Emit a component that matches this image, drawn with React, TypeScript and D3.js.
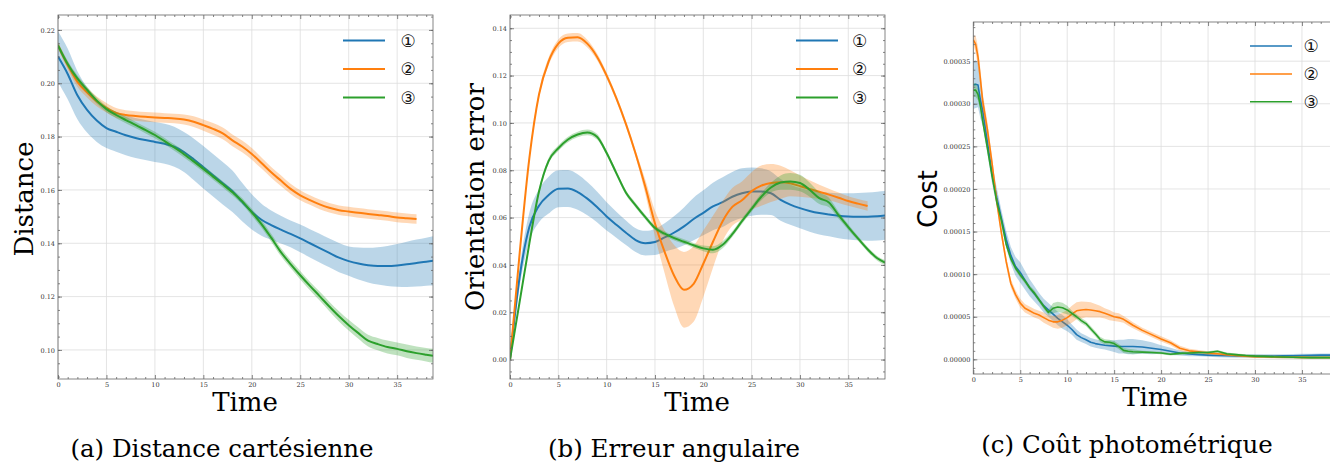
import React, { useEffect, useRef } from 'react';
import * as d3 from 'd3';

const BLUE = '#1f77b4';
const ORANGE = '#ff7f0e';
const GREEN = '#2ca02c';
const legendLabels = ['①', '②', '③'];
const xMajorTicks = [0, 5, 10, 15, 20, 25, 30, 35];

// (a) Distance cartésienne
const distTime = [0, 1, 2, 3, 4, 5, 6, 7, 8, 9, 10, 11, 12, 13, 14, 15, 16, 17, 18, 19, 20, 21, 22, 23, 24, 25, 26, 27, 28, 29, 30, 31, 32, 33, 34, 35, 36, 37, 38, 38.7];
const distBlue = [.2100, .2035, .1955, .1900, .1860, .1832, .1818, .1805, .1795, .1787, .1780, .1773, .1762, .1742, .1715, .1685, .1655, .1625, .1595, .1555, .1518, .1488, .1468, .1451, .1435, .1418, .1400, .1382, .1364, .1346, .1333, .1324, .1318, .1315, .1315, .1317, .1321, .1326, .1331, .1334];
const distBlueSpread = [.0095, .0095, .009, .0085, .008, .0075, .0075, .0075, .0075, .0075, .0075, .0075, .0075, .0075, .0078, .008, .008, .008, .0078, .0072, .0066, .006, .0055, .0052, .005, .0052, .0053, .0054, .0054, .0055, .0055, .006, .0065, .007, .0075, .008, .0085, .0088, .009, .0092];
const distOrange = [.2142, .2068, .2005, .1965, .1932, .1908, .1889, .1881, .1877, .1874, .1872, .1870, .1868, .1864, .1856, .1843, .1829, .1812, .1786, .1763, .1735, .1701, .1666, .1635, .1604, .1580, .1562, .1546, .1533, .1524, .1519, .1514, .1510, .1506, .1502, .1497, .1494, .1491, null, null];
const distOrangeSpread = [.0012, .0015, .0018, .0018, .0018, .0018, .0018, .0018, .0018, .0018, .0018, .0018, .0018, .0019, .002, .0021, .0022, .0022, .0022, .0022, .0022, .0021, .002, .002, .0019, .0019, .0018, .0018, .0018, .0018, .0018, .0018, .0018, .0018, .0018, .0018, .0018, .0018, null, null];
const distGreen = [.2142, .2072, .2018, .1975, .1935, .1903, .1881, .1862, .1844, .1825, .1806, .1783, .1759, .1734, .1707, .1679, .1650, .1621, .1591, .1558, .1516, .1472, .1421, .1367, .1322, .1280, .1240, .1202, .1163, .1126, .1093, .1063, .1035, .1022, .1011, .1004, .0995, .0988, .0982, .0978];
const distGreenSpread = [.0012, .0012, .0012, .0012, .0012, .0012, .0012, .0012, .0012, .0012, .0012, .0012, .0012, .0012, .0012, .0012, .0012, .0012, .0012, .0012, .0013, .0014, .0015, .0015, .0015, .0016, .0016, .0017, .0018, .0019, .002, .0021, .0022, .0023, .0024, .0024, .0025, .0025, .0025, .0026];

// (b) Erreur angulaire
const orientTime = [0, 1, 2, 3, 4, 5, 6, 7, 8, 9, 10, 11, 12, 13, 14, 15, 16, 17, 18, 19, 20, 21, 22, 23, 24, 25, 26, 27, 28, 29, 30, 31, 32, 33, 34, 35, 36, 37, 38, 38.8];
const orientBlue = [0, .035, .056, .065, .0695, .0722, .0723, .0708, .068, .0645, .0605, .057, .0536, .0505, .0492, .0497, .0516, .0537, .0563, .0594, .062, .0647, .0665, .0688, .0703, .071, .071, .0703, .0675, .0655, .064, .0628, .0619, .0613, .0608, .0605, .0604, .0604, .0606, .0609];
const orientBlueSpread = [0, .004, .006, .007, .0078, .0078, .0078, .0075, .007, .0065, .006, .0055, .0052, .005, .0052, .0055, .006, .007, .008, .009, .0095, .01, .0105, .0105, .0105, .0102, .0098, .0092, .0088, .0085, .0085, .0088, .009, .0092, .0095, .0098, .01, .0102, .0103, .0103];
const orientOrange = [0, .045, .085, .112, .126, .1335, .136, .1362, .1335, .128, .12, .1105, .0995, .087, .073, .0575, .0455, .0353, .0295, .032, .0405, .0498, .0585, .0645, .0673, .0712, .0735, .0746, .0749, .0745, .0733, .0721, .0709, .0697, .0684, .067, .0659, .0649, null, null];
const orientOrangeSpread = [0, .0008, .0012, .0014, .0016, .0018, .0018, .0018, .0016, .0014, .0013, .0012, .0012, .0014, .003, .0055, .009, .013, .016, .016, .014, .011, .0085, .008, .008, .008, .0085, .008, .007, .0055, .0045, .0037, .003, .0025, .0022, .002, .002, .002, null, null];
const orientGreen = [0, .0245, .049, .071, .084, .0893, .093, .0951, .096, .0942, .0873, .0788, .0705, .0652, .0602, .0556, .0532, .0513, .0498, .0483, .047, .0464, .0485, .053, .0585, .0637, .0688, .0727, .0748, .0753, .0746, .0718, .0682, .0664, .061, .056, .0512, .0466, .0428, .041];
const orientGreenSpread = [0, .0008, .001, .001, .0012, .0012, .0012, .0012, .0012, .0012, .001, .001, .001, .001, .001, .001, .001, .001, .001, .001, .0012, .0015, .0015, .0012, .0012, .0012, .0015, .002, .003, .0035, .0035, .003, .0025, .002, .0015, .0012, .001, .001, .001, .001];

// (c) Coût photométrique, values in units of 1e-5
const costTime = [0, 0.25, 0.5, 0.75, 1, 1.5, 2, 2.5, 3, 3.5, 4, 4.5, 5, 5.5, 6, 6.5, 7, 7.5, 8, 8.5, 9, 9.5, 10, 10.5, 11, 11.5, 12, 12.5, 13, 13.5, 14, 14.5, 15, 15.5, 16, 16.5, 17, 18, 19, 20, 21, 22, 23, 24, 25, 26, 27, 28, 29, 30, 31, 32, 33, 34, 35, 36, 37, 38.5];
const costBlue = [32.2, 32.3, 32.2, 30.5, 29.2, 25.5, 21.8, 19.0, 16.5, 14.1, 12.2, 10.9, 10.2, 9.3, 8.4, 7.7, 7.0, 6.3, 5.8, 5.3, 4.8, 4.4, 4.0, 3.5, 2.9, 2.55, 2.3, 2.0, 1.85, 1.75, 1.65, 1.6, 1.55, 1.5, 1.5, 1.5, 1.5, 1.45, 1.3, 1.15, 0.95, 0.75, 0.62, 0.55, 0.5, 0.46, 0.42, 0.4, 0.39, 0.39, 0.4, 0.4, 0.41, 0.43, 0.45, 0.47, 0.49, 0.5];
const costBlueSpread = [2.8, 2.8, 2.6, 2.2, 1.8, 1.4, 1.2, 1.1, 1.0, 1.0, 1.0, 1.1, 1.2, 1.1, 1.0, 0.9, 0.8, 0.8, 0.8, 0.8, 0.8, 0.8, 0.7, 0.6, 0.6, 0.5, 0.5, 0.5, 0.5, 0.5, 0.5, 0.6, 0.7, 0.8, 0.8, 0.9, 0.9, 0.8, 0.7, 0.5, 0.4, 0.3, 0.25, 0.2, 0.2, 0.2, 0.2, 0.2, 0.2, 0.2, 0.2, 0.2, 0.2, 0.2, 0.2, 0.2, 0.2, 0.2];
const costOrange = [37.5, 37.0, 35.5, 33.0, 30.3, 27.0, 23.0, 18.5, 14.8, 11.5, 8.9, 7.6, 6.6, 6.0, 5.7, 5.4, 5.2, 4.9, 4.6, 4.4, 4.4, 4.6, 4.9, 5.3, 5.7, 5.8, 5.85, 5.8, 5.7, 5.6, 5.4, 5.2, 5.0, 4.9, 4.7, 4.35, 4.0, 3.4, 2.9, 2.4, 1.95, 1.3, 1.0, 0.9, 0.75, 0.65, 0.55, 0.45, 0.38, 0.32, 0.3, 0.28, 0.25, 0.24, 0.23, 0.22, 0.22, 0.22];
const costOrangeSpread = [0.5, 1.0, 1.2, 1.1, 1.0, 0.9, 0.8, 0.7, 0.6, 0.6, 0.5, 0.5, 0.5, 0.5, 0.5, 0.5, 0.5, 0.6, 0.6, 0.7, 0.8, 0.9, 0.9, 1.0, 1.0, 1.0, 0.9, 0.9, 0.8, 0.7, 0.6, 0.6, 0.5, 0.5, 0.4, 0.4, 0.35, 0.3, 0.3, 0.3, 0.3, 0.3, 0.25, 0.2, 0.2, 0.15, 0.15, 0.15, 0.15, 0.15, 0.15, 0.15, 0.15, 0.15, 0.15, 0.15, 0.15, 0.15];
const costGreen = [31.6, 31.6, 31.1, 29.8, 28.0, 24.8, 21.5, 18.5, 16.3, 13.5, 11.8, 10.7, 9.9, 9.2, 8.4, 7.8, 7.0, 6.2, 5.5, 6.0, 6.15, 6.05, 5.8, 5.4, 5.0, 4.55, 4.2, 3.6, 3.0, 2.35, 2.05, 2.0, 1.85, 1.5, 1.05, 0.95, 0.9, 0.85, 0.8, 0.75, 0.6, 0.7, 0.75, 0.8, 0.8, 0.95, 0.65, 0.55, 0.45, 0.38, 0.35, 0.3, 0.28, 0.25, 0.22, 0.2, 0.2, 0.2];
const costGreenSpread = [0.8, 0.8, 0.7, 0.6, 0.5, 0.3, 0.3, 0.3, 0.3, 0.3, 0.3, 0.3, 0.3, 0.3, 0.3, 0.3, 0.3, 0.3, 0.3, 0.6, 0.6, 0.6, 0.5, 0.3, 0.3, 0.3, 0.3, 0.3, 0.3, 0.3, 0.3, 0.3, 0.3, 0.3, 0.3, 0.3, 0.3, 0.15, 0.15, 0.15, 0.15, 0.15, 0.15, 0.15, 0.15, 0.15, 0.15, 0.15, 0.15, 0.15, 0.15, 0.15, 0.15, 0.15, 0.15, 0.15, 0.15, 0.15];

const panels = [
    {
        left: 58, top: 15, right: 433, bottom: 379, xMax: 38.7,
        yDomain: [0.0891, 0.2256], yTicks: [0.10, 0.12, 0.14, 0.16, 0.18, 0.20, 0.22], yMinorStep: 0.005,
        yFormat: d3.format('.2f'),
        yLabel: 'Distance', yLabelFont: 'DejaVu Serif', yLabelX: 33, yLabelY: 199,
        timeX: 245, timeY: 411, caption: '(a) Distance cartésienne', captionX: 222, captionY: 457,
        legendX: 343, legendTextX: 408, legendY: [40.5, 69, 97.5], lineWidth: 2, curve: d3.curveMonotoneX,
        time: distTime,
        series: [
            { mean: distBlue, spread: distBlueSpread, color: BLUE },
            { mean: distOrange, spread: distOrangeSpread, color: ORANGE },
            { mean: distGreen, spread: distGreenSpread, color: GREEN },
        ],
    },
    {
        left: 510, top: 15, right: 885, bottom: 379, xMax: 38.8,
        yDomain: [-0.0082, 0.1456], yTicks: [0, 0.02, 0.04, 0.06, 0.08, 0.10, 0.12, 0.14], yMinorStep: 0.005,
        yFormat: d3.format('.2f'),
        yLabel: 'Orientation error', yLabelFont: 'DejaVu Serif', yLabelX: 484, yLabelY: 197,
        timeX: 697, timeY: 411, caption: '(b) Erreur angulaire', captionX: 674, captionY: 457,
        legendX: 796, legendTextX: 859.5, legendY: [40.5, 69, 97.5], lineWidth: 2, curve: d3.curveMonotoneX,
        time: orientTime,
        series: [
            { mean: orientBlue, spread: orientBlueSpread, color: BLUE },
            { mean: orientOrange, spread: orientOrangeSpread, color: ORANGE },
            { mean: orientGreen, spread: orientGreenSpread, color: GREEN },
        ],
    },
    {
        left: 973.3, top: 22, right: 1335, bottom: 374, xMax: 38.52,
        yDomain: [-1.72, 39.6], yTicks: [0, 5, 10, 15, 20, 25, 30, 35], yMinorStep: 1,
        yFormat: (d: number) => d3.format('.5f')(d * 1e-5),
        yLabel: 'Cost', yLabelFont: 'DejaVu Sans', yLabelX: 937, yLabelY: 199,
        timeX: 1155, timeY: 406, caption: '(c) Coût photométrique', captionX: 1127, captionY: 453,
        legendX: 1250, legendTextX: 1311, legendY: [46, 74, 101.7], lineWidth: 1.6, curve: d3.curveLinear,
        time: costTime,
        series: [
            { mean: costBlue, spread: costBlueSpread, color: BLUE },
            { mean: costOrange, spread: costOrangeSpread, color: ORANGE },
            { mean: costGreen, spread: costGreenSpread, color: GREEN },
        ],
    },
];

const styleAxis = (sel: any) => {
    sel.select('.domain').remove();
    sel.selectAll('line').attr('stroke', '#666').attr('stroke-width', 0.8);
    sel.selectAll('text')
        .attr('font-family', 'DejaVu Serif')
        .attr('font-size', 6.5)
        .attr('fill', '#333');
};

const drawPanel = (svg: any, p: any, idx: number) => {
    const x = d3.scaleLinear().domain([0, p.xMax]).range([p.left, p.right]);
    const y = d3.scaleLinear().domain(p.yDomain).range([p.bottom, p.top]);
    const g = svg.append('g');

    const clipId = `plot-clip-${idx}`;
    g.append('clipPath').attr('id', clipId).append('rect')
        .attr('x', p.left).attr('y', p.top)
        .attr('width', p.right - p.left).attr('height', p.bottom - p.top);

    // grid
    g.append('g').selectAll('line').data(xMajorTicks).join('line')
        .attr('x1', (d: number) => x(d)).attr('x2', (d: number) => x(d))
        .attr('y1', p.top).attr('y2', p.bottom)
        .attr('stroke', '#dddddd').attr('stroke-width', 0.8);
    g.append('g').selectAll('line').data(p.yTicks).join('line')
        .attr('x1', p.left).attr('x2', p.right)
        .attr('y1', (d: number) => y(d)).attr('y2', (d: number) => y(d))
        .attr('stroke', '#dddddd').attr('stroke-width', 0.8);

    // bands and mean lines
    const plot = g.append('g').attr('clip-path', `url(#${clipId})`);
    p.series.forEach((s: any) => {
        const pts = p.time.map((t: number, i: number) => ({ t, m: s.mean[i], s: s.spread[i] }));
        const ok = (d: any) => d.m != null;
        const area = d3.area<any>().defined(ok).curve(p.curve)
            .x(d => x(d.t)).y0(d => y(d.m - d.s)).y1(d => y(d.m + d.s));
        const line = d3.line<any>().defined(ok).curve(p.curve)
            .x(d => x(d.t)).y(d => y(d.m));
        plot.append('path').datum(pts).attr('d', area)
            .attr('fill', s.color).attr('fill-opacity', 0.3);
        plot.append('path').datum(pts).attr('d', line)
            .attr('fill', 'none').attr('stroke', s.color).attr('stroke-width', p.lineWidth)
            .attr('stroke-linejoin', 'round');
    });

    // frame
    g.append('rect')
        .attr('x', p.left).attr('y', p.top)
        .attr('width', p.right - p.left).attr('height', p.bottom - p.top)
        .attr('fill', 'none').attr('stroke', '#666').attr('stroke-width', 0.8);

    // ticks, all pointing inward
    const xMinor = d3.range(0, Math.floor(p.xMax) + 1).filter(v => v % 5 !== 0);
    const [y0, y1] = p.yDomain;
    const yMinor = d3.range(Math.ceil(y0 / p.yMinorStep), Math.floor(y1 / p.yMinorStep) + 1)
        .map(k => +(k * p.yMinorStep).toFixed(6));

    g.append('g').attr('transform', `translate(0,${p.bottom})`)
        .call(d3.axisBottom(x).tickValues(xMajorTicks).tickSize(-4).tickPadding(3).tickFormat(d3.format('d')))
        .call(styleAxis);
    g.append('g').attr('transform', `translate(0,${p.bottom})`)
        .call(d3.axisBottom(x).tickValues(xMinor).tickSize(-2).tickFormat(() => ''))
        .call(styleAxis);
    g.append('g').attr('transform', `translate(0,${p.top})`)
        .call(d3.axisTop(x).tickValues(xMajorTicks).tickSize(-4).tickFormat(() => ''))
        .call(styleAxis);
    g.append('g').attr('transform', `translate(0,${p.top})`)
        .call(d3.axisTop(x).tickValues(xMinor).tickSize(-2).tickFormat(() => ''))
        .call(styleAxis);
    g.append('g').attr('transform', `translate(${p.left},0)`)
        .call(d3.axisLeft(y).tickValues(p.yTicks).tickSize(-4).tickPadding(3).tickFormat(p.yFormat))
        .call(styleAxis);
    g.append('g').attr('transform', `translate(${p.left},0)`)
        .call(d3.axisLeft(y).tickValues(yMinor).tickSize(-2).tickFormat(() => ''))
        .call(styleAxis);
    g.append('g').attr('transform', `translate(${p.right},0)`)
        .call(d3.axisRight(y).tickValues(p.yTicks).tickSize(-4).tickFormat(() => ''))
        .call(styleAxis);
    g.append('g').attr('transform', `translate(${p.right},0)`)
        .call(d3.axisRight(y).tickValues(yMinor).tickSize(-2).tickFormat(() => ''))
        .call(styleAxis);

    // legend
    p.series.forEach((s: any, i: number) => {
        const ly = p.legendY[i];
        g.append('line')
            .attr('x1', p.legendX).attr('x2', p.legendX + 42)
            .attr('y1', ly).attr('y2', ly)
            .attr('stroke', s.color).attr('stroke-width', p.lineWidth);
        g.append('text')
            .attr('x', p.legendTextX).attr('y', ly).attr('dy', '0.36em')
            .attr('text-anchor', 'middle')
            .attr('font-family', 'DejaVu Sans').attr('font-size', 17).attr('fill', '#111')
            .text(legendLabels[i]);
    });

    // labels
    g.append('text')
        .attr('transform', `translate(${p.yLabelX},${p.yLabelY}) rotate(-90)`)
        .attr('text-anchor', 'middle')
        .attr('font-family', p.yLabelFont).attr('font-size', 26).attr('fill', '#000')
        .text(p.yLabel);
    g.append('text')
        .attr('x', p.timeX).attr('y', p.timeY)
        .attr('text-anchor', 'middle')
        .attr('font-family', 'DejaVu Serif').attr('font-size', 26).attr('fill', '#000')
        .text('Time');
    g.append('text')
        .attr('x', p.captionX).attr('y', p.captionY)
        .attr('text-anchor', 'middle')
        .attr('font-family', 'DejaVu Serif').attr('font-size', 24.5).attr('fill', '#000')
        .text(p.caption);
};

const App = () => {
    const svgRef = useRef<SVGSVGElement>(null);

    useEffect(() => {
        const svg = d3.select(svgRef.current);
        svg.selectAll('*').remove();
        panels.forEach((p, i) => drawPanel(svg, p, i));
    }, []);

    return (
        <svg
            ref={svgRef}
            width={1330}
            height={464}
            style={{ position: 'absolute', left: 0, top: 0, background: '#fff' }}
        />
    );
};

export default App;
